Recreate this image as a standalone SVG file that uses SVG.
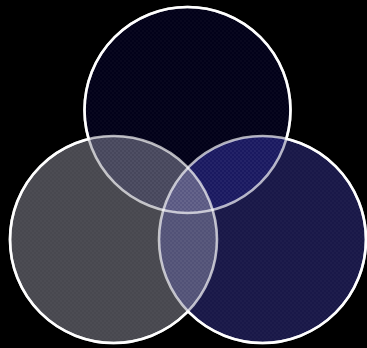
<svg xmlns="http://www.w3.org/2000/svg" width="367" height="348" viewBox="0 0 367 348">
  <style>
    .rim{fill:none;stroke:#ffffff;stroke-width:2.6}
    .inner{fill:none;stroke:#ffffff;stroke-opacity:0.68;stroke-width:2.6}
  </style>
  <defs>
    <clipPath id="cT"><circle cx="187.5" cy="110" r="103"/></clipPath>
    <clipPath id="cL"><circle cx="113.5" cy="239.5" r="103.5"/></clipPath>
    <clipPath id="cR"><circle cx="262.5" cy="239.5" r="103.5"/></clipPath>
    <mask id="mT" maskUnits="userSpaceOnUse" x="0" y="0" width="367" height="348">
      <rect width="367" height="348" fill="#fff"/>
      <circle cx="113.5" cy="239.5" r="103.5" fill="#000"/>
      <circle cx="262.5" cy="239.5" r="103.5" fill="#000"/>
    </mask>
    <mask id="mL" maskUnits="userSpaceOnUse" x="0" y="0" width="367" height="348">
      <rect width="367" height="348" fill="#fff"/>
      <circle cx="187.5" cy="110" r="103" fill="#000"/>
      <circle cx="262.5" cy="239.5" r="103.5" fill="#000"/>
    </mask>
    <mask id="mR" maskUnits="userSpaceOnUse" x="0" y="0" width="367" height="348">
      <rect width="367" height="348" fill="#fff"/>
      <circle cx="187.5" cy="110" r="103" fill="#000"/>
      <circle cx="113.5" cy="239.5" r="103.5" fill="#000"/>
    </mask>
    <pattern id="chk" width="4" height="4" patternUnits="userSpaceOnUse">
      <rect width="2" height="2" fill="#ffffff" fill-opacity="0.025"/>
      <rect x="2" y="2" width="2" height="2" fill="#ffffff" fill-opacity="0.025"/>
    </pattern>
  </defs>
  <rect width="367" height="348" fill="#000"/>

  <g id="circle-top">
    <circle cx="187.5" cy="110" r="103" fill="#020119"/>
  </g>
  <g id="circle-left">
    <circle cx="113.5" cy="239.5" r="103.5" fill="#48484f"/>
  </g>
  <g id="circle-right">
    <circle cx="262.5" cy="239.5" r="103.5" fill="#191848"/>
  </g>

  <g id="overlaps">
    <circle cx="113.5" cy="239.5" r="103.5" fill="#47475c" clip-path="url(#cT)"/>
    <circle cx="262.5" cy="239.5" r="103.5" fill="#1a1960" clip-path="url(#cT)"/>
    <circle cx="262.5" cy="239.5" r="103.5" fill="#525277" clip-path="url(#cL)"/>
    <g clip-path="url(#cT)">
      <circle cx="262.5" cy="239.5" r="103.5" fill="#595882" clip-path="url(#cL)"/>
    </g>
    <circle cx="187.5" cy="110" r="103" fill="url(#chk)"/>
    <circle cx="113.5" cy="239.5" r="103.5" fill="url(#chk)"/>
    <circle cx="262.5" cy="239.5" r="103.5" fill="url(#chk)"/>
  </g>

  <g id="outlines">
    <circle class="inner" cx="187.5" cy="110" r="103"/>
    <circle class="inner" cx="113.5" cy="239.5" r="103.5"/>
    <circle class="inner" cx="262.5" cy="239.5" r="103.5"/>
    <circle class="rim" cx="187.5" cy="110" r="103" mask="url(#mT)"/>
    <circle class="rim" cx="113.5" cy="239.5" r="103.5" mask="url(#mL)"/>
    <circle class="rim" cx="262.5" cy="239.5" r="103.5" mask="url(#mR)"/>
  </g>
</svg>
